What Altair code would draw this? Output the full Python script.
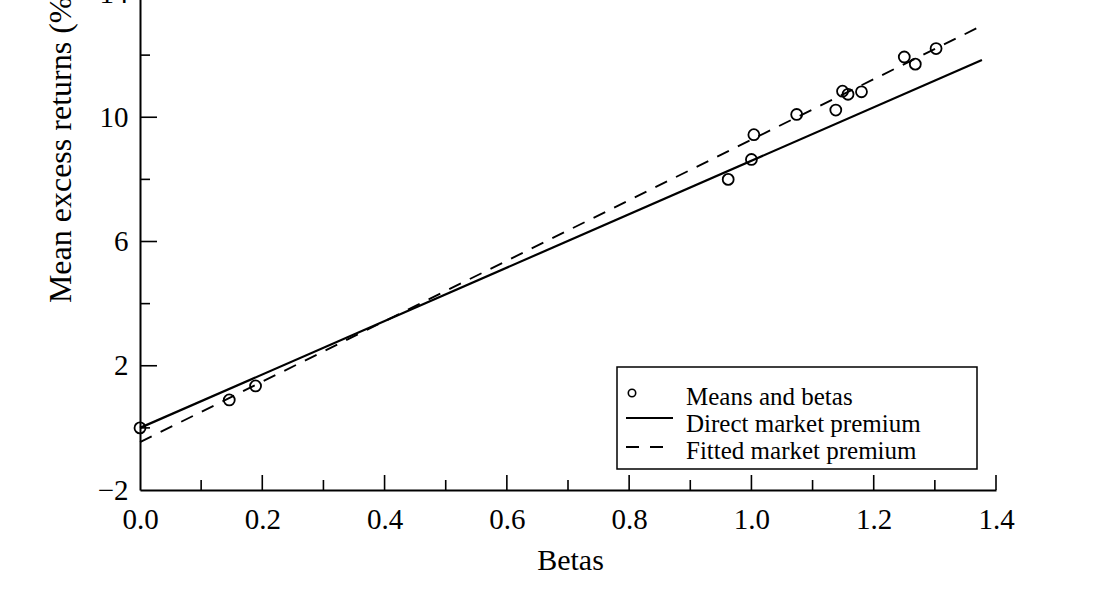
import altair as alt
import pandas as pd

# ---- data ----
betas = [0.0, 0.146, 0.189, 0.962, 1.000, 1.004, 1.074, 1.138, 1.149, 1.158, 1.180, 1.250, 1.268, 1.302]
means = [0.0, 0.90, 1.35, 8.00, 8.64, 9.44, 10.09, 10.23, 10.84, 10.74, 10.82, 11.94, 11.71, 12.21]

direct_beta = [0.0, 1.377]
direct_ret = [0.0, 11.84]
fitted_beta = [0.0, 1.370]
fitted_ret = [-0.46, 12.88]

x_label_ticks = [0.0, 0.2, 0.4, 0.6, 0.8, 1.0, 1.2, 1.4]
x_major_ticks = [0.2, 0.4, 0.6, 0.8, 1.0, 1.2, 1.4]
x_minor_ticks = [0.1, 0.3, 0.5, 0.7, 0.9, 1.1, 1.3]
y_label_ticks = [-2, 2, 6, 10, 14]
y_major_ticks = [2, 6, 10, 14]
y_minor_ticks = [0, 4, 8, 12]

legend_labels = ["Means and betas", "Direct market premium", "Fitted market premium"]

FONT = "Liberation Serif"
W, H = 856, 490

xs = alt.Scale(domain=[0, 1.4], nice=False, zero=False)
ys = alt.Scale(domain=[-2, 14], nice=False, zero=False, range=[H, -7])

X_TITLE = "Betas"
Y_TITLE = "Mean excess returns (%)"

xaxis = alt.Axis(
    title=X_TITLE, values=x_label_ticks, format=".1f", ticks=False, tickSize=0,
    labelPadding=38, labelBaseline="alphabetic", labelFontSize=29,
    titleFontSize=30, titleBaseline="alphabetic", titleY=79, titleX=430, titleFontWeight="normal",
    domainWidth=2, labelFlush=False)
yaxis = alt.Axis(
    title=Y_TITLE, values=y_label_ticks, format="d", ticks=False, tickSize=0,
    labelPadding=12, labelFontSize=29, titleFontSize=32, titleFontWeight="normal",
    titleX=-70, titleY=144, titleBaseline="alphabetic", titleAlign="center", titleAngle=270,
    domainWidth=2, labelFlush=False)

def X():
    return alt.X("beta:Q", scale=xs, axis=xaxis, title=X_TITLE)

def Y():
    return alt.Y("ret:Q", scale=ys, axis=yaxis, title=Y_TITLE)

pts = pd.DataFrame({"beta": betas, "ret": means})
direct = pd.DataFrame({"beta": direct_beta, "ret": direct_ret})
fitted = pd.DataFrame({"beta": fitted_beta, "ret": fitted_ret})

points = alt.Chart(pts).mark_point(
    shape="circle", filled=False, size=120, strokeWidth=1.8, color="black", opacity=1
).encode(x=X(), y=Y())

line_direct = alt.Chart(direct).mark_line(color="black", strokeWidth=2.2).encode(x=X(), y=Y())
line_fitted = alt.Chart(fitted).mark_line(color="black", strokeWidth=1.9,
                                          strokeDash=[13, 10]).encode(x=X(), y=Y())

def xticks(vals, length):
    return alt.Chart(pd.DataFrame({"beta": vals})).mark_rule(color="black", strokeWidth=1.6).encode(
        x=X(), y=alt.value(H), y2=alt.value(H - length))

def yticks(vals, length):
    return alt.Chart(pd.DataFrame({"ret": vals})).mark_rule(color="black", strokeWidth=1.6).encode(
        y=Y(), x=alt.value(0), x2=alt.value(length))

# ---- legend (drawn by hand) ----
one = pd.DataFrame({"k": [0]})
leg_box = alt.Chart(one).mark_rect(fill="white", stroke="black", strokeWidth=1.5).encode(
    x=alt.value(477), x2=alt.value(837), y=alt.value(367), y2=alt.value(469))
leg_pt = alt.Chart(one).mark_point(shape="circle", filled=False, size=55, strokeWidth=1.6,
                                   color="black", opacity=1).encode(
    x=alt.value(492), y=alt.value(393))
leg_solid = alt.Chart(one).mark_rule(color="black", strokeWidth=2).encode(
    x=alt.value(486), x2=alt.value(533), y=alt.value(418))
leg_dash = alt.Chart(one).mark_rule(color="black", strokeWidth=1.8, strokeDash=[13, 11]).encode(
    x=alt.value(486), x2=alt.value(533), y=alt.value(447))
leg_texts = [
    alt.Chart(one).mark_text(align="left", baseline="alphabetic", font=FONT, fontSize=25,
                             color="black").encode(
        x=alt.value(546), y=alt.value(405 + 27 * i), text=alt.value(lab))
    for i, lab in enumerate(legend_labels)
]

chart = alt.layer(
    points, line_direct, line_fitted,
    xticks(x_major_ticks, 15), xticks(x_minor_ticks, 10),
    yticks(y_major_ticks, 17), yticks(y_minor_ticks, 10),
    leg_box, leg_pt, leg_solid, leg_dash, *leg_texts,
).properties(
    width=W, height=H,
    autosize=alt.AutoSizeParams(type="none"),
    padding={"left": 140, "top": 0, "right": 1100 - 140 - W, "bottom": 591 - H},
    background="white",
).configure_view(stroke=None).configure_axis(
    grid=False, domainColor="black", labelColor="black", titleColor="black",
    labelFont=FONT, titleFont=FONT,
)

chart.save("out.html", embed_options={"renderer": "svg", "actions": False})
